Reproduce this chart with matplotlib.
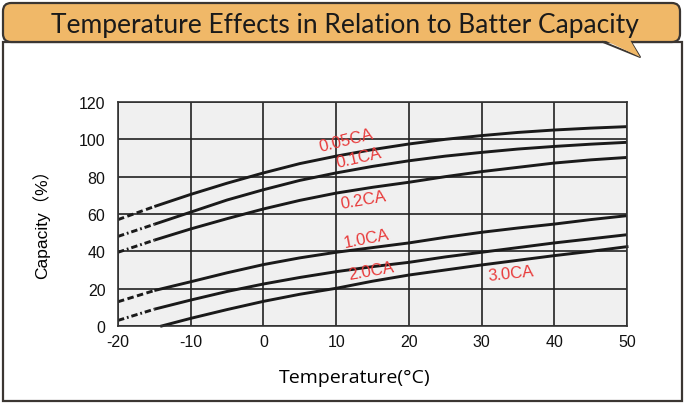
import matplotlib
matplotlib.use("Agg")
import matplotlib.pyplot as plt
from matplotlib.patches import FancyBboxPatch, Polygon, Rectangle
from matplotlib.lines import Line2D

# temperatures (C) and capacity (%)
temps = [-20, -15, -10, -5, 0, 5, 10, 15, 20, 25, 30, 35, 40, 45, 50]
cap_005 = [57, 64, 70.5, 76.5, 82, 87, 91, 94.5, 97.5, 100, 102, 103.7, 105, 106, 106.8]
cap_01 = [48, 54.5, 61, 67.5, 73, 78, 82, 85.5, 88.5, 91, 93, 94.8, 96.2, 97.4, 98.4]
cap_02 = [39.5, 46, 52, 57.5, 62.7, 67.3, 71.2, 74.3, 77, 80, 82.7, 85, 87.3, 89, 90.3]
cap_10 = [13, 19, 23.7, 28.5, 32.9, 36.5, 39.5, 42, 44.5, 47.5, 50.2, 52.5, 54.6, 57, 59.1]
cap_20 = [3, 9, 13.9, 18.5, 22.5, 26, 29.1, 31.8, 34.1, 37, 39.5, 42, 44.5, 46.7, 48.9]
temps_30 = [-14, -10, -5, 0, 5, 10, 15, 20, 25, 30, 35, 40, 45, 50]
cap_30 = [0, 4.1, 8.8, 13.2, 17, 20.2, 24, 27.3, 30, 32.7, 35.2, 37.7, 40, 42.5]

labels = ["0.05CA", "0.1CA", "0.2CA", "1.0CA", "2.0CA", "3.0CA"]
label_x = [11.4, 13.1, 13.8, 14.2, 14.8, 34.0]
label_y = [99.5, 90.5, 68, 46.8, 29.5, 28.5]
label_rot = [14, 13, 10, 11, 10, 6]

plt.rcParams["axes.unicode_minus"] = False

W, H = 684, 406
fig = plt.figure(figsize=(W / 100, H / 100), dpi=100)

def fx(px):
    return px / W

def fy(py):
    return 1 - py / H

edge = "#3b3632"
orange = "#F0B868"

# white box with border
fig.patches.append(Rectangle((fx(3), fy(402)), fx(679), (399 - 40) / H,
                             transform=fig.transFigure, facecolor="white",
                             edgecolor=edge, linewidth=1.6, zorder=-3))
# title banner
fig.patches.append(FancyBboxPatch((fx(3), fy(43)), fx(677), 39 / H,
                                  boxstyle="round,pad=0,rounding_size=0.012",
                                  mutation_aspect=W / H,
                                  transform=fig.transFigure, facecolor=orange,
                                  edgecolor=edge, linewidth=1.6, zorder=-2))
fig.patches.append(Polygon([(fx(604), fy(41)), (fx(640), fy(58)), (fx(630), fy(41))],
                           closed=True, transform=fig.transFigure,
                           facecolor=orange, edgecolor="none", zorder=-1))
fig.lines.append(Line2D([fx(603), fx(640), fx(631)], [fy(43), fy(58), fy(43)],
                        transform=fig.transFigure, color=edge, linewidth=1.4, zorder=-1))
fig.text(fx(345), fy(25), "Temperature Effects in Relation to Batter Capacity",
         ha="center", va="center", fontsize=19, color="#1a1a1a",
         family=["Lato", "DejaVu Sans"], zorder=4)

ax = fig.add_axes([fx(118), fy(327), fx(509), (327 - 103) / H])
ax.set_zorder(5)
ax.set_facecolor("#F0F0F0")
ax.set_xlim(-20, 50)
ax.set_ylim(0, 120)
ax.set_xticks(range(-20, 51, 10))
ax.set_yticks(range(0, 121, 20))
ax.grid(True, color="#222222", linewidth=1.2)
ax.set_axisbelow(True)
for s in ax.spines.values():
    s.set_color("#333333")
    s.set_linewidth(1.2)
ax.tick_params(length=0, labelsize=11.5, colors="#111111")
ax.tick_params(axis="x", pad=6)
ax.tick_params(axis="y", pad=9)
for t in ax.get_xticklabels() + ax.get_yticklabels():
    t.set_family("Liberation Sans")

lw = 2.1
series = [cap_005, cap_01, cap_02, cap_10, cap_20]
dash_styles = [(0, (2.2, 1.2)), (0, (2.2, 1.0, 0.6, 1.0)), (0, (2.2, 1.0, 0.6, 1.0)),
               (0, (2.2, 1.2)), (0, (2.2, 1.0, 0.6, 1.0))]
for vals, ds in zip(series, dash_styles):
    ax.plot(temps[:2], vals[:2], color="#1a1a1a", linewidth=lw, linestyle=ds)
    ax.plot(temps[1:], vals[1:], color="#1a1a1a", linewidth=lw, solid_capstyle="butt")
ax.plot(temps_30, cap_30, color="#1a1a1a", linewidth=lw, clip_on=False)

for lab, x, y, r in zip(labels, label_x, label_y, label_rot):
    ax.text(x, y, lab, color="#E83A3A", fontsize=12, rotation=r,
            ha="center", va="center", family="Liberation Sans")

ax.set_xlabel("Temperature(°C)", fontsize=14, family="Open Sans")
ax.xaxis.set_label_coords((355 - 118) / 509, -(378 - 327) / 224, transform=ax.transAxes)
ax.xaxis.label.set_va("center")
ax.set_ylabel("Capacity（%）", fontsize=12.5,
              family=["Liberation Sans", "Noto Sans CJK SC"])
ax.yaxis.set_label_coords(-(118 - 41) / 509, (327 - 220) / 224, transform=ax.transAxes)
ax.yaxis.label.set_va("center")

fig.savefig("out.png", dpi=100)
